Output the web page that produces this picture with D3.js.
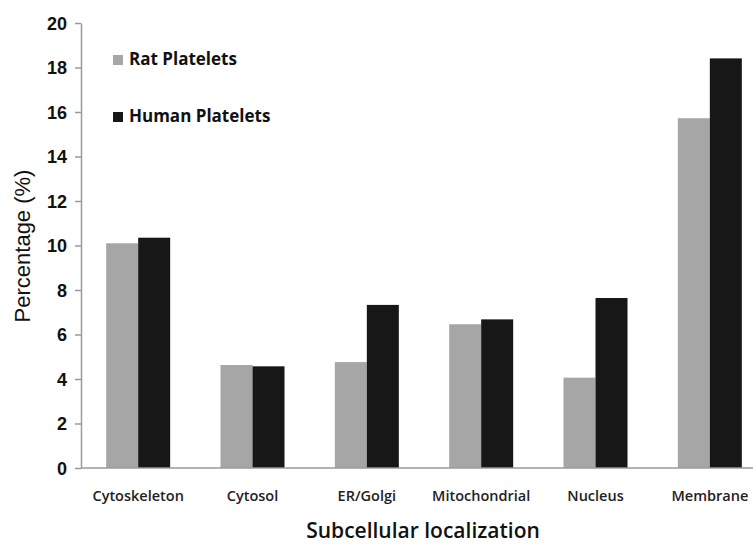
<!DOCTYPE html>
<html><head><meta charset="utf-8">
<script src="https://cdn.jsdelivr.net/npm/d3@7/dist/d3.min.js"></script>
<style>body{margin:0;background:#fff}svg{display:block}</style>
</head><body>
<svg id="c" width="753" height="546"></svg>
<script>
const categories = ["Cytoskeleton","Cytosol","ER/Golgi","Mitochondrial","Nucleus","Membrane"];
const ratValues = [10.1, 4.63, 4.76, 6.46, 4.06, 15.72];
const humanValues = [10.35, 4.57, 7.33, 6.68, 7.64, 18.41];
const seriesNames = ["Rat Platelets","Human Platelets"];
const yTicks = [0,2,4,6,8,10,12,14,16,18,20];

const svg = d3.select("#c");
const colors = ["#a6a6a6","#171717"];
const x0 = d3.scaleBand().domain(categories).range([81, 767]).padding(0);
const x1 = d3.scaleBand().domain(seriesNames).range([x0.bandwidth()/2 - 32, x0.bandwidth()/2 + 32]).padding(0);
const y = d3.scaleLinear().domain([0,20]).range([468, 23]);

// bars
const series = [ratValues, humanValues];
series.forEach((vals, si) => {
  svg.append("g").selectAll("rect").data(vals).join("rect")
    .attr("x", (d,i) => x0(categories[i]) + x1(seriesNames[si]))
    .attr("width", x1.bandwidth())
    .attr("y", d => y(d))
    .attr("height", d => y(0) - y(d))
    .attr("fill", colors[si]);
});

// y axis
const yAxis = svg.append("g").attr("transform","translate(81,0)")
  .call(d3.axisLeft(y).tickValues(yTicks).tickSize(6).tickSizeOuter(0).tickPadding(8));
yAxis.select(".domain").attr("stroke","#9a9a9a").attr("stroke-width",1.5);
yAxis.selectAll(".tick line").attr("stroke","#9a9a9a").attr("stroke-width",1.5);
yAxis.selectAll(".tick text").attr("font-family","Liberation Sans, Arial, sans-serif")
  .attr("font-weight","bold").attr("font-size",18).attr("fill","#111").attr("dy","0.34em");

// x axis line
svg.append("line").attr("x1",81).attr("x2",753).attr("y1",y(0)).attr("y2",y(0))
  .attr("stroke","#9a9a9a").attr("stroke-width",1.5);

// x labels
svg.append("g").selectAll("text").data(categories).join("text")
  .attr("x", d => x0(d) + x0.bandwidth()/2)
  .attr("y", 501)
  .attr("text-anchor","middle")
  .attr("font-family","Open Sans, sans-serif").attr("font-weight","600")
  .attr("font-size",14.5).attr("fill","#222")
  .text(d => d);

// axis titles
svg.append("text").attr("x",423).attr("y",538).attr("text-anchor","middle")
  .attr("font-family","Open Sans, sans-serif").attr("font-weight","600")
  .attr("font-size",21).attr("fill","#111").text("Subcellular localization");
svg.append("text").attr("transform","translate(30,246) rotate(-90)").attr("text-anchor","middle")
  .attr("font-family","Liberation Sans, Arial, sans-serif")
  .attr("font-size",22).attr("fill","#111").text("Percentage (%)");

// legend
const leg = svg.append("g");
seriesNames.forEach((name, i) => {
  const ly = 60 + i*57;
  leg.append("rect").attr("x",113).attr("y",ly-5).attr("width",10).attr("height",10).attr("fill",colors[i]);
  leg.append("text").attr("x",129).attr("y",ly+5)
    .attr("font-family","Open Sans, sans-serif").attr("font-weight","bold")
    .attr("font-size",17).attr("fill","#111").text(name);
});
</script>
</body></html>
